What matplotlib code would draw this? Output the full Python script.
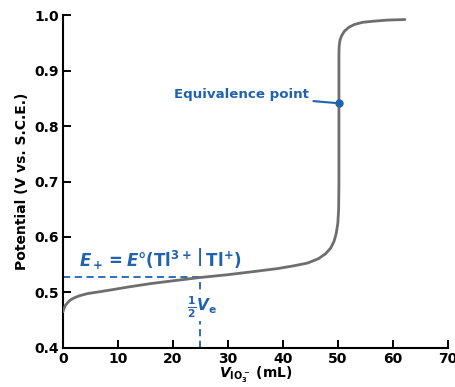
import numpy as np
from matplotlib import pyplot as plt

# titration curve
vol = [0, 0.15, 0.4, 0.8, 1.3, 2.0, 3.0, 4.5, 6.5, 9, 12, 16, 20, 25, 30,
       35, 39, 42, 44.5, 46.5, 47.8, 48.7, 49.3, 49.7, 50.0, 50.15, 50.2,
       50.2, 50.25, 50.4, 50.7, 51.2, 52, 53, 54.5, 56.5, 59, 62.2]
pot = [0.465, 0.470, 0.476, 0.481, 0.486, 0.490, 0.494, 0.498, 0.501,
       0.505, 0.510, 0.516, 0.521, 0.527, 0.532, 0.538, 0.543, 0.548,
       0.553, 0.561, 0.570, 0.580, 0.592, 0.606, 0.625, 0.65, 0.70, 0.93,
       0.945, 0.955, 0.963, 0.971, 0.978, 0.983, 0.987, 0.989, 0.991, 0.992]
eq_point = (50.2, 0.841)
half_point = (25, 0.527)

xticks = [0, 10, 20, 30, 40, 50, 60, 70]
yticks = [0.4, 0.5, 0.6, 0.7, 0.8, 0.9, 1.0]

blue = "#1f62b0"
gray = "#6e6e6e"

plt.rcParams["font.family"] = "DejaVu Sans"
plt.rcParams["mathtext.fontset"] = "custom"
plt.rcParams["mathtext.rm"] = "DejaVu Sans:bold"
plt.rcParams["mathtext.it"] = "DejaVu Sans:italic:bold"
plt.rcParams["mathtext.bf"] = "DejaVu Sans:bold"

fig = plt.figure(figsize=(4.56, 3.87), dpi=100)
ax = fig.add_axes([0.138, 0.101, 0.844, 0.860])

ax.plot(vol, pot, color=gray, lw=2.0, solid_joinstyle="round",
        solid_capstyle="round", zorder=3)

# dashed guide lines for half equivalence
ax.plot([0, half_point[0]], [half_point[1], half_point[1]], ls="--",
        color=blue, lw=1.3, dashes=(4, 2.5))
ax.plot([half_point[0], half_point[0]], [0.4, half_point[1]], ls="--",
        color=blue, lw=1.3, dashes=(4, 2.5))

ax.text(3.0, 0.562, r"$E_+ = E°(\mathrm{Tl}^{3+}\,\left|\right.\,\mathrm{Tl}^{+})$",
        color=blue, fontsize=12, ha="left", va="center")
ax.text(25.3, 0.473, r"$\frac{1}{2}V_{\mathrm{e}}$", color=blue,
        fontsize=11, ha="center", va="center",
        bbox=dict(facecolor="white", edgecolor="none", pad=0.5))

ax.plot(*eq_point, "o", color=blue, ms=5, zorder=4)
ax.annotate("Equivalence point", xy=eq_point, xytext=(44.8, 0.856),
            color=blue, fontsize=9.6, fontweight="bold", ha="right",
            va="center",
            arrowprops=dict(arrowstyle="-", color=blue, lw=1.5,
                            shrinkA=1, shrinkB=0))

ax.set_xlim(0, 70)
ax.set_ylim(0.4, 1.0)
ax.set_xticks(xticks)
ax.set_yticks(yticks)
ax.set_yticklabels([f"{t:.1f}" for t in yticks])
for lab in ax.get_xticklabels() + ax.get_yticklabels():
    lab.set_fontweight("bold")
ax.tick_params(direction="in", length=6, width=1.4, labelsize=10, pad=3)
ax.spines["top"].set_visible(False)
ax.spines["right"].set_visible(False)
for s in ("left", "bottom"):
    ax.spines[s].set_linewidth(1.5)

ax.set_ylabel("Potential (V vs. S.C.E.)", fontsize=10, fontweight="bold")
ax.set_xlabel(r"$V_{\mathrm{IO}_3^-}$ (mL)", fontsize=10,
              fontweight="bold", labelpad=-1)

fig.savefig("out.png", dpi=100)
